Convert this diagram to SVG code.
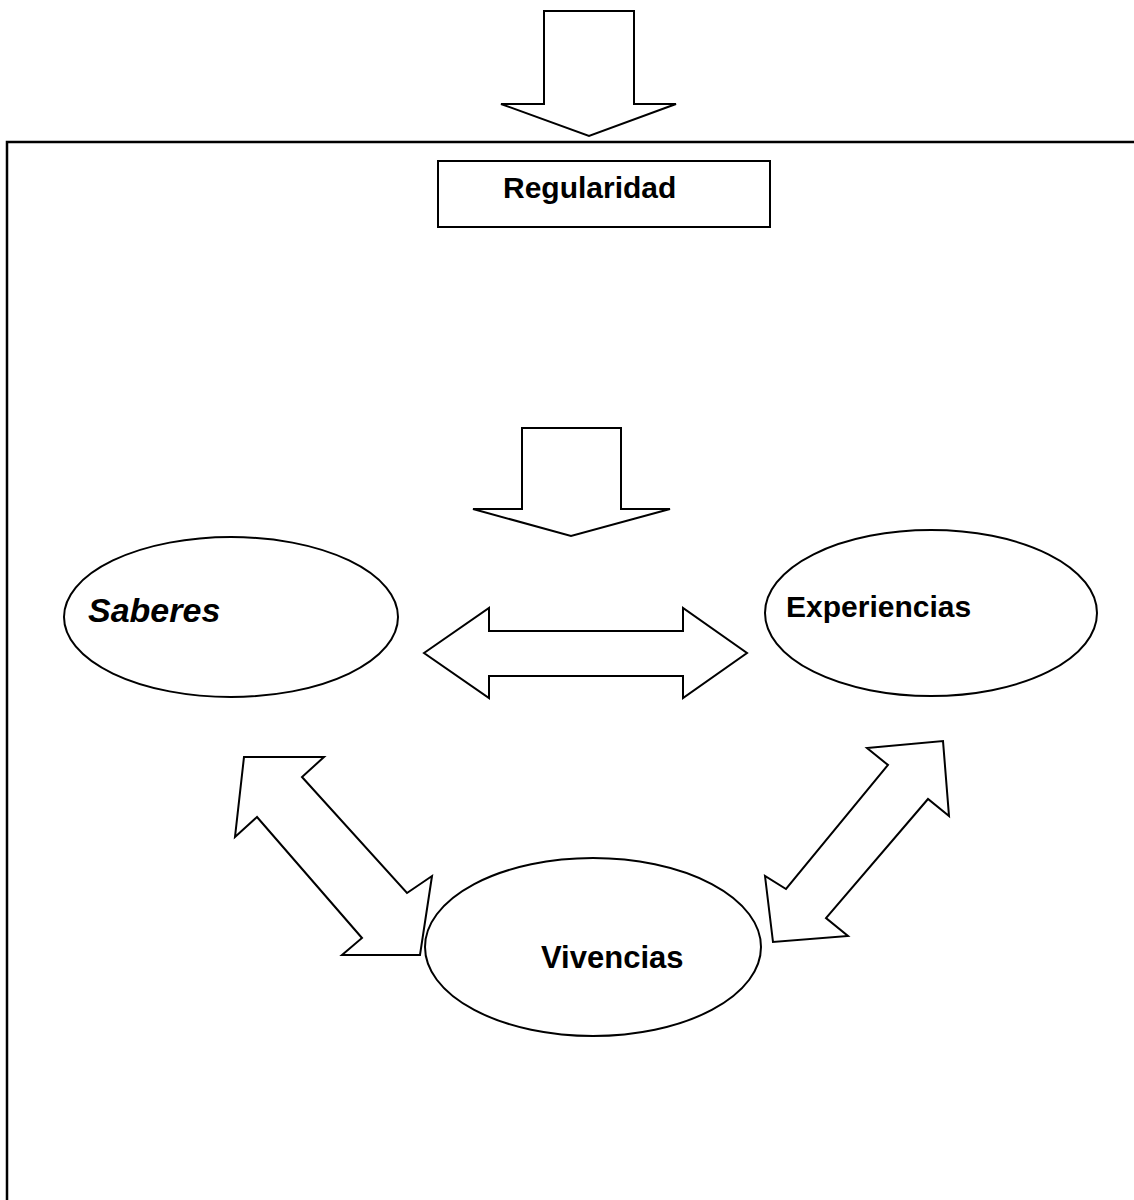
<svg xmlns="http://www.w3.org/2000/svg" width="1134" height="1200" viewBox="0 0 1134 1200">
  <style>
    .shape { fill: #ffffff; stroke: #000000; stroke-width: 2; stroke-linejoin: miter; }
    .frame { fill: none; stroke: #000000; stroke-width: 2.5; }
    .label { font-family: "Liberation Sans", Arial, sans-serif; font-weight: bold; fill: #000000; }
  </style>
  <rect x="0" y="0" width="1134" height="1200" fill="#ffffff"/>

  <!-- outer frame (continues past the right and bottom edges) -->
  <path class="frame" d="M7,1210 L7,142 L1140,142"/>

  <g id="connectors">
    <!-- incoming arrow above the frame -->
    <polygon id="arrow-top" class="shape" points="544,11 634,11 634,104 676,104 589,136 501,104 544,104"/>
    <!-- arrow into the central relation -->
    <polygon id="arrow-middle" class="shape" points="522,428 621,428 621,509 670,509 571,536 473,509 522,509"/>
    <!-- Saberes <-> Experiencias -->
    <polygon id="arrow-saberes-experiencias" class="shape" points="424,653 489,608 489,631 683,631 683,608 747,653 683,698 683,676 489,676 489,698"/>
    <!-- Saberes <-> Vivencias -->
    <polygon id="arrow-saberes-vivencias" class="shape" points="244,757 324,757 302,777 407,893 432,876 420,955 342,955 362,938 257,817 235,837"/>
    <!-- Experiencias <-> Vivencias -->
    <polygon id="arrow-experiencias-vivencias" class="shape" points="943,741 949,816 928,799 826,918 848,936 773,942 765,876 786,889 888,765 867,748"/>
  </g>

  <g id="regularidad">
    <rect class="shape" x="438" y="161" width="332" height="66"/>
    <text class="label" x="503" y="198" font-size="30">Regularidad</text>
  </g>

  <g id="saberes">
    <ellipse class="shape" cx="231" cy="617" rx="167" ry="80"/>
    <text class="label" x="88" y="622" font-size="34" font-style="italic">Saberes</text>
  </g>

  <g id="experiencias">
    <ellipse class="shape" cx="931" cy="613" rx="166" ry="83"/>
    <text class="label" x="786" y="617" font-size="30">Experiencias</text>
  </g>

  <g id="vivencias">
    <ellipse class="shape" cx="593" cy="947" rx="168" ry="89"/>
    <text class="label" x="541" y="968" font-size="31">Vivencias</text>
  </g>
</svg>
